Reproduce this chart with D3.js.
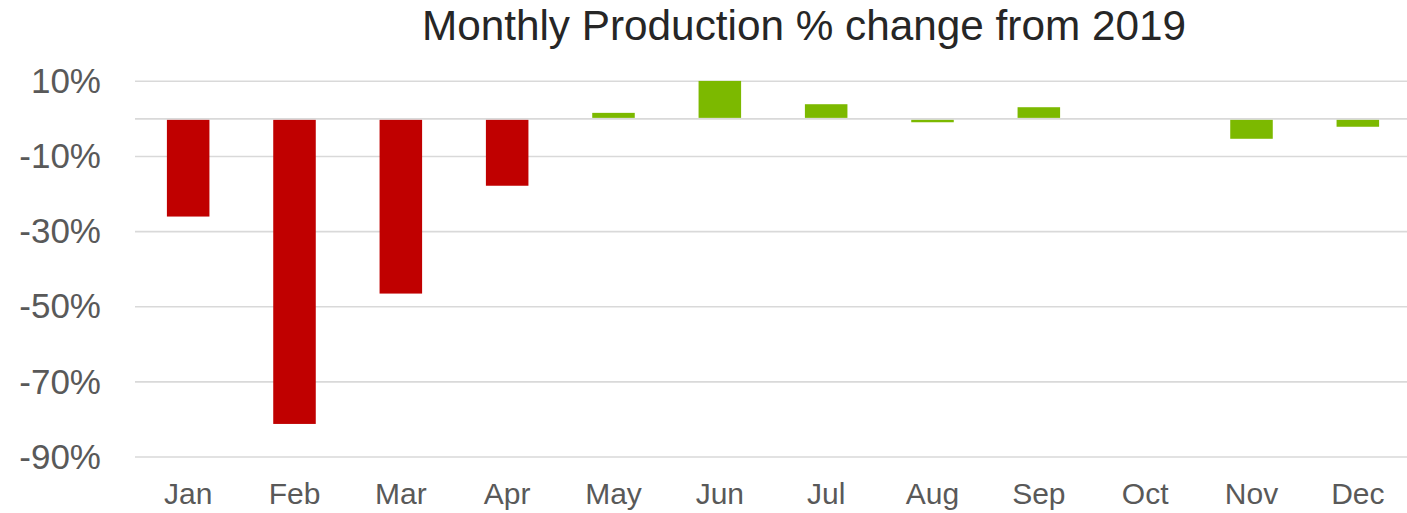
<!DOCTYPE html>
<html>
<head>
<meta charset="utf-8">
<script src="https://cdn.jsdelivr.net/npm/d3@7"></script>
<style>
  body { margin: 0; background: #fff; }
  text { font-family: "Liberation Sans", Arial, sans-serif; }
</style>
</head>
<body>
<svg id="chart"></svg>
<script>
const months = ["Jan", "Feb", "Mar", "Apr", "May", "Jun", "Jul", "Aug", "Sep", "Oct", "Nov", "Dec"];
const pctChange = [-26.0, -81.2, -46.5, -17.8, 1.6, 10.1, 3.9, -0.9, 3.1, 0, -5.3, -2.1];
const yTicks = [10, -10, -30, -50, -70, -90];

const width = 1407, height = 513;
const margin = { top: 81.3, right: 0, bottom: 56, left: 135 };

const data = months.map((m, i) => ({ month: m, value: pctChange[i] }));

const svg = d3.select("#chart")
    .attr("width", width)
    .attr("height", height);

// bands run a little past the right edge, as in the original
const x = d3.scaleBand()
    .domain(months)
    .range([margin.left, 1411])
    .paddingInner(0.6)
    .paddingOuter(0.3);

const y = d3.scaleLinear()
    .domain([10, -90])
    .range([margin.top, height - margin.bottom]);

// gridlines (incl. zero line)
svg.append("g")
    .selectAll("line")
    .data(yTicks.concat([0]))
    .join("line")
    .attr("x1", margin.left)
    .attr("x2", width - margin.right)
    .attr("y1", d => y(d))
    .attr("y2", d => y(d))
    .attr("stroke", "#d9d9d9")
    .attr("stroke-width", 1.6);

// bars
svg.append("g")
    .selectAll("rect")
    .data(data)
    .join("rect")
    .attr("x", d => x(d.month))
    .attr("width", x.bandwidth())
    .attr("y", d => d.value >= 0 ? y(d.value) : y(0) + 1)
    .attr("height", d => Math.max(0, Math.abs(y(d.value) - y(0)) - 1))
    .attr("fill", d => ["Jan", "Feb", "Mar", "Apr"].includes(d.month) ? "#c00000" : "#7cb900");

// y axis labels
svg.append("g")
    .attr("transform", `translate(${margin.left},0)`)
    .call(d3.axisLeft(y).tickValues(yTicks).tickFormat(d => d + "%").tickSize(0).tickPadding(34))
    .call(g => g.select(".domain").remove())
    .selectAll("text")
    .style("font-size", "35px")
    .style("font-family", "'Liberation Sans', Arial, sans-serif")
    .attr("fill", "#595959");

// x axis labels
svg.append("g")
    .attr("transform", `translate(0,${y(-90)})`)
    .call(d3.axisBottom(x).tickSize(0).tickPadding(26))
    .call(g => g.select(".domain").remove())
    .selectAll("text")
    .style("font-size", "30px")
    .style("font-family", "'Liberation Sans', Arial, sans-serif")
    .attr("fill", "#595959");

// title
svg.append("text")
    .attr("x", 804)
    .attr("y", 40)
    .attr("text-anchor", "middle")
    .style("font-size", "42.3px")
    .attr("fill", "#262626")
    .text("Monthly Production % change from 2019");
</script>
</body>
</html>
